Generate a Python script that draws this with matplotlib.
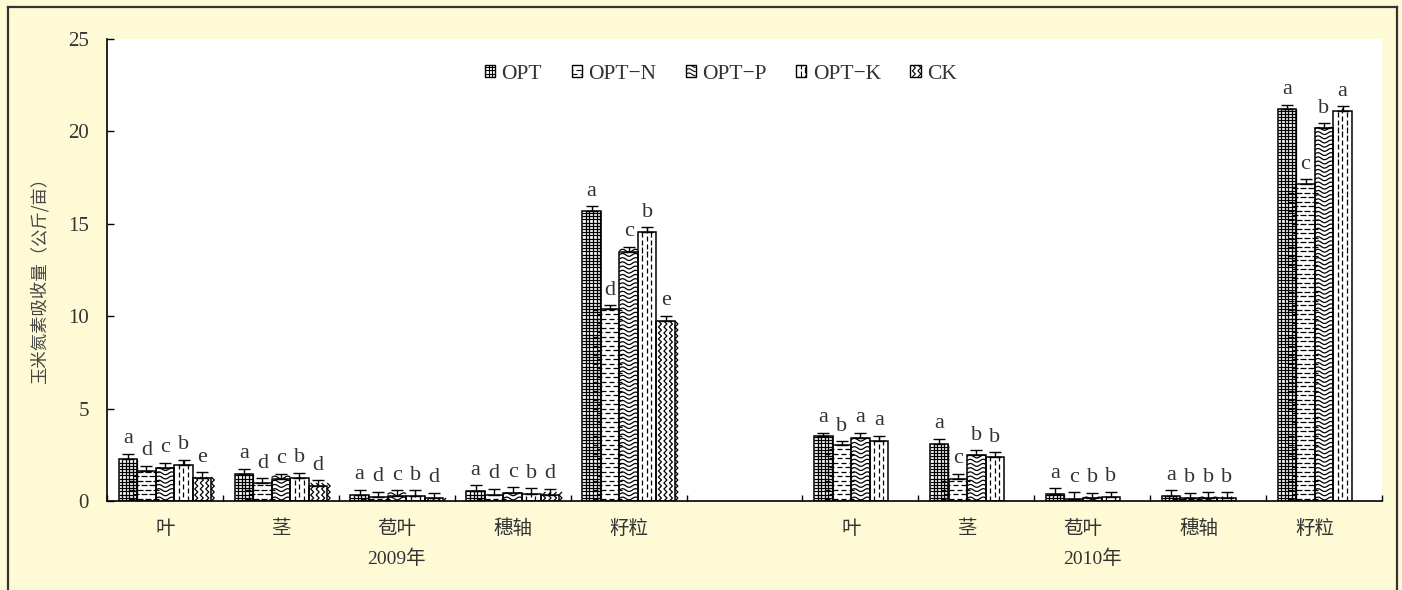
import numpy as np
import matplotlib.pyplot as plt
from matplotlib.patches import Rectangle
from matplotlib.collections import LineCollection
from matplotlib.legend_handler import HandlerBase
from matplotlib.lines import Line2D
from matplotlib.transforms import blended_transform_factory

treatments = ['OPT', 'OPT−N', 'OPT−P', 'OPT−K', 'CK']
organs = ['叶', '茎', '苞叶', '穗轴', '籽粒']
years = ['2009年', '2010年']

# 2009：各器官（行）× 处理（列）
n2009 = [
    [2.25, 1.60, 1.78, 1.95, 1.25],
    [1.46, 0.96, 1.17, 1.23, 0.83],
    [0.32, 0.20, 0.27, 0.27, 0.15],
    [0.55, 0.35, 0.45, 0.40, 0.35],
    [15.69, 10.37, 13.49, 14.54, 9.74],
]
err2009 = [
    [0.30, 0.30, 0.28, 0.28, 0.30],
    [0.28, 0.27, 0.30, 0.30, 0.28],
    [0.30, 0.30, 0.30, 0.30, 0.30],
    [0.30, 0.30, 0.30, 0.30, 0.30],
    [0.27, 0.22, 0.27, 0.27, 0.28],
]
sig2009 = ['adcbe', 'adcbd', 'adcbd', 'adcbd', 'adcbe']

# 2010：没有 CK
n2010 = [
    [3.52, 3.01, 3.39, 3.26],
    [3.08, 1.19, 2.51, 2.36],
    [0.38, 0.13, 0.15, 0.20],
    [0.27, 0.15, 0.18, 0.18],
    [21.20, 17.14, 20.17, 21.12],
]
err2010 = [
    [0.18, 0.22, 0.30, 0.27],
    [0.29, 0.27, 0.23, 0.27],
    [0.31, 0.33, 0.30, 0.30],
    [0.30, 0.30, 0.30, 0.30],
    [0.23, 0.27, 0.27, 0.25],
]
sig2010 = ['abaa', 'acbb', 'acbb', 'abbb', 'acba']

kinds = ['grid', 'hdash', 'wave', 'vdash', 'zigzag']

W, H, DPI = 1402, 590, 100
fig = plt.figure(figsize=(W / DPI, H / DPI), dpi=DPI, facecolor='#fffad6')
ax_l, ax_r, ax_t, ax_b = 107, 1382, 39, 501
ax = fig.add_axes([ax_l / W, (H - ax_b) / H, (ax_r - ax_l) / W, (ax_b - ax_t) / H])
ax.set_facecolor('white')
ax.set_xlim(-0.5, 10.5)
ax.set_ylim(0, 25)

# size of one pixel in data units
sx = 11 / (ax_r - ax_l)
sy = 25 / (ax_b - ax_t)


def pattern_segments(kind, x0, y0, w, h, px, py):
    segs = []
    x1, y1 = x0 + w, y0 + h
    if kind == 'grid':
        for x in np.arange(x0 + 3.6 * px, x1, 3.6 * px):
            segs.append([(x, y0), (x, y1)])
        for y in np.arange(y0 + 3.2 * py, y1, 3.2 * py):
            segs.append([(x0, y), (x1, y)])
    elif kind == 'hdash':
        for i, y in enumerate(np.arange(y0 + 2.5 * py, y1, 4.5 * py)):
            off = (i % 2) * 4 * px
            for xs in np.arange(x0 - 8 * px + off, x1, 8 * px):
                segs.append([(xs, y), (xs + 5.5 * px, y)])
    elif kind == 'wave':
        xs = np.linspace(x0, x1, 30)
        for y in np.arange(y0 + 2.5 * py, y1 + 2 * py, 4.2 * py):
            ys = y + 1.4 * py * np.sin(2 * np.pi * (xs - x0) / (13 * px))
            segs.append(np.column_stack([xs, ys]))
    elif kind == 'vdash':
        for k, x in enumerate(np.arange(x0 + 4.5 * px, x1 - px, 4.5 * px)):
            off = (k % 2) * 4 * py
            for ys in np.arange(y0 - 8 * py + off, y1, 8 * py):
                segs.append([(x, ys), (x, ys + 5.5 * py)])
    elif kind == 'zigzag':
        for xc in np.arange(x0 + 2 * px, x1, 5.5 * px):
            ys = np.arange(y0, y1 + 3 * py, 3 * py)
            xs = xc + np.where(np.arange(len(ys)) % 2 == 0, 0, 3 * px)
            segs.append(np.column_stack([xs, ys]))
    return segs


bar_w = 0.16
for j, kind in enumerate(kinds):
    x, v, e, s = [], [], [], []
    for i in range(5):
        x.append(i + (j - 2) * bar_w)
        v.append(n2009[i][j])
        e.append(err2009[i][j])
        s.append(sig2009[i][j])
    if j < 4:
        for i in range(5):
            x.append(6 + i + (j - 2) * bar_w)
            v.append(n2010[i][j])
            e.append(err2010[i][j])
            s.append(sig2010[i][j])
    x, v, e = np.array(x), np.array(v), np.array(e)

    bars = ax.bar(x, v, width=bar_w, facecolor='white', edgecolor='none', zorder=2)
    for rect, h in zip(bars, v):
        segs = pattern_segments(kind, rect.get_x(), 0, bar_w, h, sx, sy)
        lc = LineCollection(segs, colors='black', linewidths=0.9, zorder=2.5)
        lc.set_clip_path(rect)
        ax.add_collection(lc)
    ax.bar(x, v, width=bar_w, fill=False, edgecolor='black', linewidth=1.1, zorder=3)
    ax.errorbar(x, v, yerr=[np.zeros_like(e), e], fmt='none', ecolor='black',
                elinewidth=1, capsize=4, capthick=1, zorder=4)
    for xi, top, letter in zip(x, v + e, s):
        ax.annotate(letter, (xi, top), xytext=(0, 4), textcoords='offset points',
                    ha='center', va='bottom', fontsize=16,
                    family='Liberation Serif', color='#333333')

ax.set_xlim(-0.5, 10.5)
ax.set_ylim(0, 25)


class PatternHandler(HandlerBase):
    def __init__(self, kind):
        super().__init__()
        self.kind = kind

    def create_artists(self, legend, orig_handle, xdescent, ydescent,
                       width, height, fontsize, trans):
        x0, y0 = -xdescent, -ydescent
        rect = Rectangle((x0, y0), width, height, facecolor='white',
                         edgecolor='black', linewidth=1, transform=trans)
        p = 72 / DPI
        segs = pattern_segments(self.kind, x0, y0, width, height, p, p)
        lc = LineCollection(segs, colors='black', linewidths=0.8, transform=trans)
        lc.set_clip_path(rect)
        return [rect, lc]


handles = [Rectangle((0, 0), 1, 1) for _ in kinds]
ax.legend(handles, treatments, loc='center', bbox_to_anchor=(0.4815, 0.924),
          ncol=5, frameon=False, handlelength=0.47, handleheight=0.47,
          handletextpad=0.3, columnspacing=1.37,
          prop={'family': 'Liberation Serif', 'size': 15.5},
          labelcolor='#333333',
          handler_map={h: PatternHandler(k) for h, k in zip(handles, kinds)})

# x axis: organ names under each group, ticks at slot boundaries
centers = list(range(5)) + [6 + i - bar_w / 2 for i in range(5)]
ax.set_xticks(centers)
ax.set_xticklabels(organs * 2, family='Noto Sans CJK SC', fontsize=14, color='#333333')
ax.set_xticks(np.arange(-0.5, 11, 1), minor=True)
ax.tick_params(axis='x', which='major', length=0, pad=12)
ax.tick_params(axis='x', which='minor', direction='in', length=4.5, width=1)

ax.set_yticks(range(0, 26, 5))
ax.tick_params(axis='y', direction='in', length=5, width=1, pad=13,
               labelsize=15, labelcolor='#333333')
for t in ax.get_yticklabels():
    t.set_family('Liberation Serif')

for side in ['top', 'right']:
    ax.spines[side].set_visible(False)
for side in ['left', 'bottom']:
    ax.spines[side].set_linewidth(1.2)

trans = blended_transform_factory(ax.transData, ax.transAxes)
for xc, yr in zip([2, 8], years):
    ax.text(xc, -0.125, yr, transform=trans, ha='center', va='center',
            fontsize=14, family=['Liberation Serif', 'Noto Sans CJK SC'], color='#333333')

ax.set_ylabel('玉米氮素吸收量（公斤/亩）', family='Noto Sans CJK SC', fontsize=12.5,
              color='#444444')
ax.yaxis.set_label_coords(-0.0455, 0.487)

# outer frame
for xs, ys in [([8, 8], [0, 583]), ([8, 1397], [583, 583]), ([1397, 1397], [0, 583])]:
    fig.add_artist(Line2D(np.array(xs) / W, np.array(ys) / H, transform=fig.transFigure,
                          color='#333333', linewidth=1.6))

fig.savefig('out.png', dpi=DPI, facecolor=fig.get_facecolor())
